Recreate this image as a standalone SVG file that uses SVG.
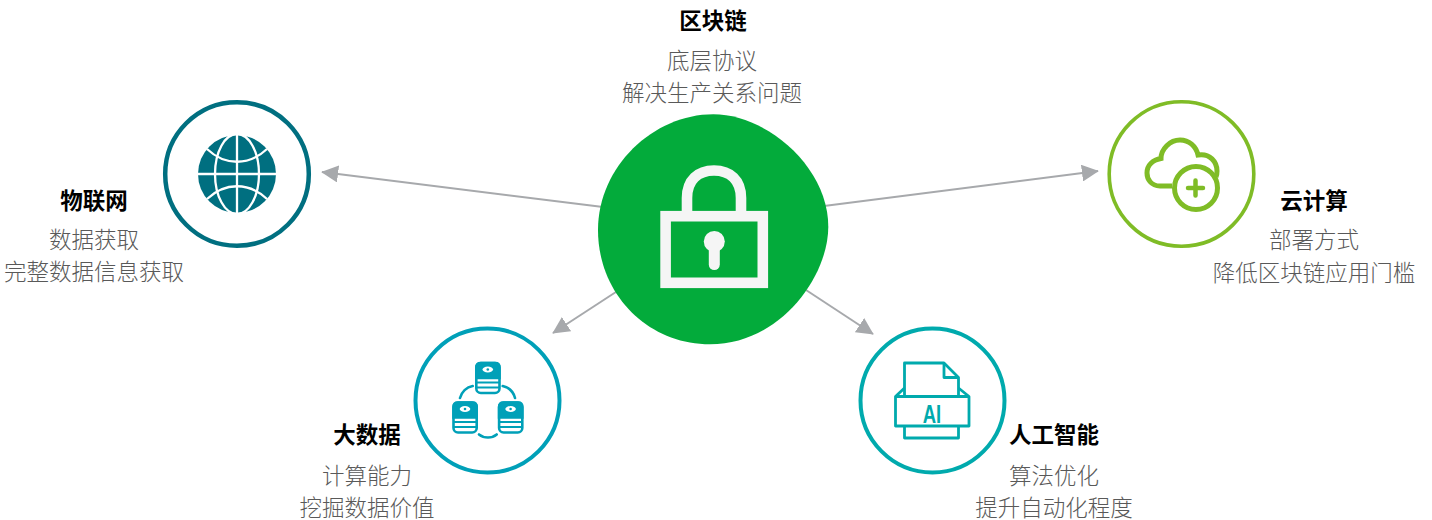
<svg xmlns="http://www.w3.org/2000/svg" width="1432" height="520" viewBox="0 0 1432 520">
<style>
text{font-family:"Noto Sans CJK SC","Noto Sans",sans-serif;text-anchor:middle}
.t{font-size:22.5px;font-weight:700;fill:#000}
.s{font-size:22.5px;font-weight:300;fill:#595959}
.ring{fill:#fff;stroke-width:4.5}
.conn{stroke:#a7a9ac;stroke-width:2;fill:none;marker-end:url(#a)}
</style>
<defs>
<marker id="a" viewBox="0 0 10 10" refX="9.5" refY="5" markerWidth="17" markerHeight="17" markerUnits="userSpaceOnUse" orient="auto" preserveAspectRatio="none"><path d="M0 0L10 5L0 10Z" fill="#a7a9ac"/></marker>
</defs>
<rect width="1432" height="520" fill="#fff"/>
<g id="connectors">
<line class="conn" x1="603" y1="207" x2="322" y2="172"/>
<line class="conn" x1="824" y1="206" x2="1098" y2="171"/>
<line class="conn" x1="619" y1="290" x2="553" y2="333"/>
<line class="conn" x1="806" y1="290" x2="873" y2="334"/>
</g>
<g id="blockchain">
<path d="M713.300 114.300C766.700 114.300 828.300 166.700 828.300 226.700C828.300 276.700 780 344.300 710 344.300C646.700 344.300 598 293.300 598 230C598 166.700 653.300 114.300 713.300 114.300Z" fill="#03ab3b"/>
<rect x="665.600" y="216.200" width="97.200" height="66.600" fill="none" stroke="#f5f5f5" stroke-width="10.600"/>
<path d="M687 212V198C687 180 698 170.500 714 170.500C730 170.500 741 180 741 198V212" fill="none" stroke="#f5f5f5" stroke-width="10.600"/>
<circle cx="714.300" cy="241.500" r="10.500" fill="#f5f5f5"/>
<path d="M714.300 245V264.500" stroke="#f5f5f5" stroke-width="11" stroke-linecap="round"/>
<text class="t" x="713" y="29">区块链</text>
<text class="s" x="712" y="69">底层协议</text>
<text class="s" x="712" y="101">解决生产关系问题</text>
</g>
<g id="iot">
<circle class="ring" cx="237" cy="174" r="71.800" stroke="#006f80"/>
<circle cx="237" cy="174" r="39" fill="#006f80"/>
<g fill="none" stroke="#fff" stroke-width="2.300">
<path d="M197 174H277M237 134V214"/>
<ellipse cx="237" cy="174" rx="22" ry="40"/>
<path d="M207 149C225 166 249 166 267 149M207 199C225 182 249 182 267 199"/>
</g>
<text class="t" x="94" y="208.500">物联网</text>
<text class="s" x="94" y="248">数据获取</text>
<text class="s" x="94" y="280">完整数据信息获取</text>
</g>
<g id="cloud">
<circle class="ring" cx="1181.500" cy="174" r="72.300" stroke="#7fbc26" style="stroke-width:3.600"/>
<path d="M1172 186H1160C1151 186 1147 179 1147 173C1147 165 1153 160 1161 158.500C1161 149 1170 140 1180 140C1189 140 1196 146 1198 155C1210 153 1217 162 1217 171C1217 173 1217 175 1216 177" fill="none" stroke="#7fbc26" stroke-width="5"/>
<circle cx="1196" cy="188" r="21.500" fill="#fff" stroke="#7fbc26" stroke-width="5"/>
<path d="M1188 188H1203M1195.500 180.500V195.500" stroke="#7fbc26" stroke-width="4.500" stroke-linecap="round"/>
<text class="t" x="1314" y="209">云计算</text>
<text class="s" x="1314" y="248">部署方式</text>
<text class="s" x="1314" y="281">降低区块链应用门槛</text>
</g>
<g id="bigdata">
<circle class="ring" cx="487.500" cy="400.500" r="72" stroke="#00a0b8" style="stroke-width:4"/>
<g fill="none" stroke="#00a0b8">
<g id="db">
<rect x="476.300" y="363" width="23.200" height="30" rx="4.500" stroke-width="2.600"/>
<path d="M476 382.500H499.800M476 387.500H499.800" stroke-width="1.800"/>
<path d="M476.300 367.500C476.300 364.500 478 363 480.500 363H495.500C498 363 499.500 364.500 499.500 367.500V378H476.300Z" fill="#00a0b8" stroke-width="2.600"/>
<ellipse cx="487.800" cy="369.500" rx="5.300" ry="2.900" fill="#fff" stroke="none"/>
<circle cx="487.800" cy="369.500" r="1.300" fill="#00a0b8" stroke="none"/>
</g>
<use href="#db" x="-22.800" y="39.500"/>
<use href="#db" x="22.800" y="39.500"/>
<path d="M460 398C461.500 392 466.500 387 472.700 386M502.700 386C509 387.500 513.500 392 515 398M479 434.500C484 438.500 492 438.500 496.700 434.500" stroke-width="2.600" stroke-linecap="round"/>
</g>
<text class="t" x="367" y="443">大数据</text>
<text class="s" x="367" y="484">计算能力</text>
<text class="s" x="367" y="516">挖掘数据价值</text>
</g>
<g id="ai">
<circle class="ring" cx="932.500" cy="400.500" r="72" stroke="#00aaad" style="stroke-width:4"/>
<g fill="none" stroke="#00aaad" stroke-width="2.800" stroke-linejoin="round">
<path d="M904.500 396.500V363H944L958.500 377.500V396.500"/>
<path d="M944 363V377.500H958.500"/>
<path d="M904.500 388L895.500 396.500V426H969V396.500L958.500 388"/>
<path d="M895.500 396.500H969"/>
<path d="M904.500 426V438H958.500V426"/>
</g>
<text x="932" y="422.500" style="font-family:'Liberation Sans',sans-serif;font-size:25.500px;font-weight:700;fill:#00aaad" textLength="18.500" lengthAdjust="spacingAndGlyphs">AI</text>
<text class="t" x="1054" y="443">人工智能</text>
<text class="s" x="1054" y="484">算法优化</text>
<text class="s" x="1054" y="516">提升自动化程度</text>
</g>
</svg>
